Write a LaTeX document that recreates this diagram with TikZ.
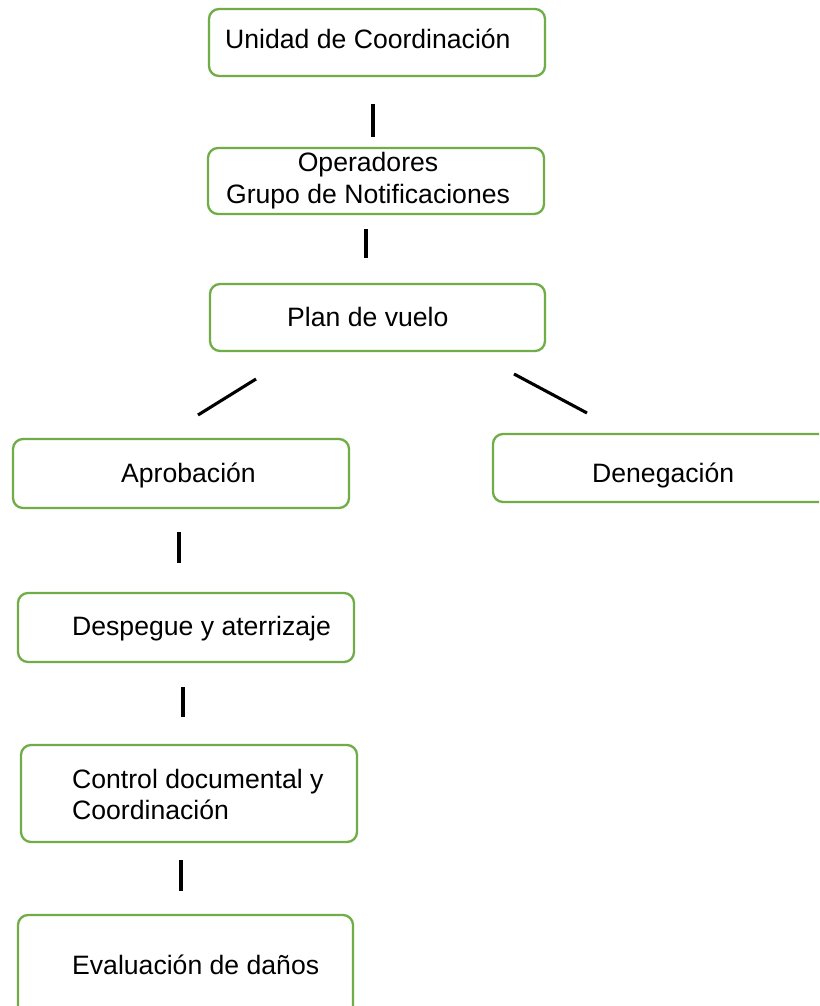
\documentclass[tikz,border=0pt]{standalone}
\usepackage{fontspec}
\setmainfont{Liberation Sans}
\definecolor{boxgreen}{HTML}{70AD47}
\begin{document}
\begin{tikzpicture}[x=1pt,y=-1pt,
  box/.style={draw=boxgreen,line width=2.3pt,rounded corners=10pt,fill=white},
  conn/.style={draw=black,line width=3.1pt},
  lbl/.style={anchor=base west,inner sep=0pt,font=\fontsize{26.6}{32}\selectfont},
  lblc/.style={anchor=base,inner sep=0pt,font=\fontsize{26.6}{32}\selectfont}]
\clip (0,0) rectangle (819,1006);
\fill[white] (0,0) rectangle (819,1006);
% boxes
\path[box] (209,9) rectangle (545,76);
\path[box] (208,148) rectangle (544,214);
\path[box] (210,284) rectangle (545,351);
\path[box] (13,439) rectangle (349,508);
\path[box] (493,434) rectangle (845,502);
\path[box] (18,593) rectangle (354,662);
\path[box] (21,745) rectangle (357,842);
\path[box] (18,915) rectangle (353,1040);
% texts
\node[lbl] (unidad) at (225,49) {Unidad de Coordinación};
\node[lblc] (operA) at (368,171) {Operadores};
\node[lblc] (operB) at (368,203) {Grupo de Notificaciones};
\node[lbl] (plan) at (287,326) {Plan de vuelo};
\node[lbl] (aprob) at (121,482) {Aprobación};
\node[lbl] (deneg) at (592,482) {Denegación};
\node[lbl] (despeg) at (72,635) {Despegue y aterrizaje};
\node[lbl] (controlA) at (72,788) {Control documental y};
\node[lbl] (controlB) at (72,819) {Coordinación};
\node[lbl] (evalua) at (72,974) {Evaluación de daños};
% connector ends
\coordinate (l1a) at (373,104); \coordinate (l1b) at (373,137);
\coordinate (l2a) at (366,229); \coordinate (l2b) at (366,258);
\coordinate (l3a) at (256,379); \coordinate (l3b) at (198,415);
\coordinate (l4a) at (514,374); \coordinate (l4b) at (587,413);
\coordinate (l5a) at (179,532); \coordinate (l5b) at (179,563);
\coordinate (l6a) at (183,687); \coordinate (l6b) at (183,717);
\coordinate (l7a) at (181,860); \coordinate (l7b) at (181,891);
\draw[conn] (l1a) -- (l1b);
\draw[conn] (l2a) -- (l2b);
\draw[conn] (l3a) -- (l3b);
\draw[conn] (l4a) -- (l4b);
\draw[conn] (l5a) -- (l5b);
\draw[conn] (l6a) -- (l6b);
\draw[conn] (l7a) -- (l7b);
\end{tikzpicture}
\end{document}
